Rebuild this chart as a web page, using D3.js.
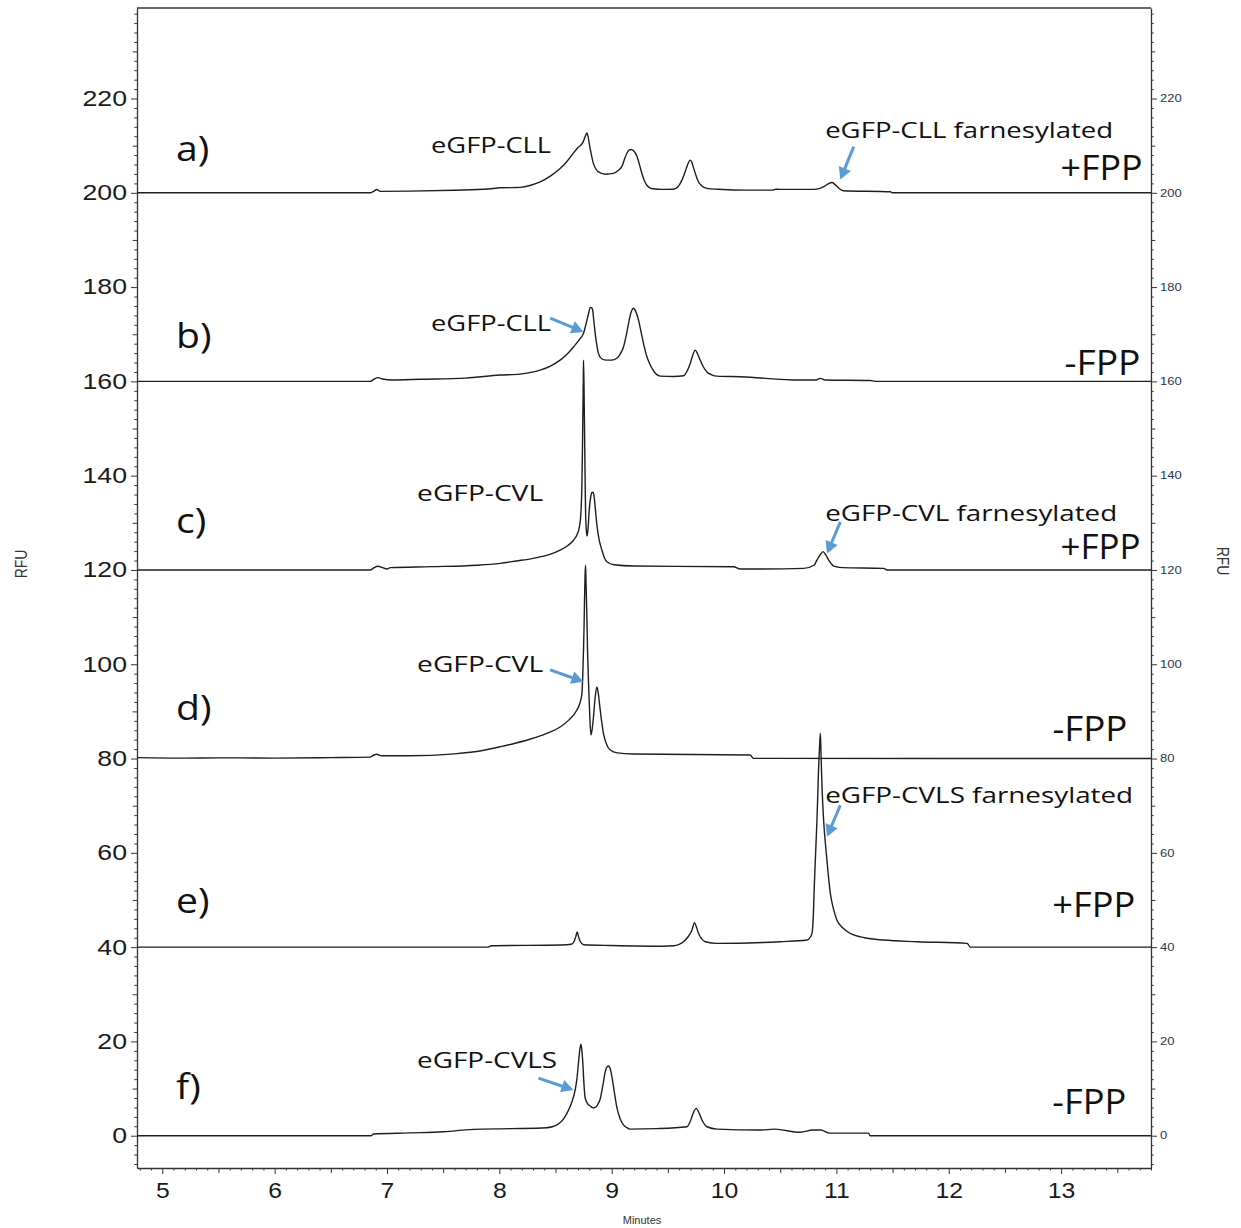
<!DOCTYPE html>
<html>
<head>
<meta charset="utf-8">
<script src="https://cdn.jsdelivr.net/npm/d3@7"></script>
<style>
  body { margin: 0; background: #fff; }
  svg { display: block; }
</style>
</head>
<body>
<svg id="chart" width="1241" height="1228"></svg>
<script>
// Stacked capillary electrophoresis traces (fluorescence, RFU vs. migration time in minutes).
// Each trace is stored as [minutes, RFU above its own baseline]; the baseline offset is added when drawn.
const traceNames   = ["a)", "b)", "c)", "d)", "e)", "f)"];
const traceOffsets = [200, 160, 120, 80, 40, 0];
const conditions   = ["+FPP", "-FPP", "+FPP", "-FPP", "+FPP", "-FPP"];

const traceA = [
  [4.775,0],[6.85,0],[6.88,0.3],[6.91,0.7],[6.94,0.3],[7.2,0.35],[7.6,0.55],[7.9,0.8],[8.007,1.06],
  [8.185,1.15],[8.28,1.6],[8.363,2.33],[8.45,3.5],[8.541,5.17],[8.60,6.6],[8.657,8.36],[8.70,9.6],
  [8.746,10.8],[8.765,12.0],[8.779,12.7],[8.79,11.9],[8.80,10.5],[8.818,8.2],[8.836,6.3],[8.86,5.0],
  [8.898,4.24],[8.95,3.95],[9.014,4.11],[9.06,4.8],[9.091,5.6],[9.115,7.2],[9.135,8.4],[9.155,9.05],
  [9.174,9.2],[9.195,8.9],[9.224,7.8],[9.248,5.9],[9.269,4.1],[9.29,2.6],[9.313,1.6],[9.34,1.05],
  [9.369,0.85],[9.46,0.72],[9.548,0.75],[9.59,1.3],[9.625,2.69],[9.650,4.2],[9.670,5.6],[9.699,6.94],
  [9.715,6.4],[9.726,5.51],[9.75,3.7],[9.771,2.4],[9.80,1.5],[9.848,0.95],[9.95,0.75],[10.204,0.57],
  [10.438,0.57],[10.46,0.75],[10.55,0.72],[10.794,0.72],[10.86,1.0],[10.901,1.5],[10.935,2.0],
  [10.961,2.2],[10.985,1.8],[11.005,1.4],[11.03,0.8],[11.061,0.45],[11.48,0.21],[11.5,0],[13.8,0]
];
const traceB = [
  [4.775,0],[6.85,0],[6.88,0.4],[6.92,0.8],[6.96,0.5],[7.05,0.3],[7.3,0.45],[7.7,0.7],[8.007,1.34],
  [8.185,1.55],[8.28,1.9],[8.363,2.4],[8.45,3.2],[8.541,4.5],[8.60,5.7],[8.66,7.3],[8.71,8.8],
  [8.749,10.2],[8.775,12.5],[8.794,14.4],[8.81,15.7],[8.822,15.6],[8.83,15.2],[8.842,12.6],
  [8.853,10.2],[8.867,7.8],[8.882,5.9],[8.91,4.8],[8.957,4.5],[9.00,4.5],[9.046,4.9],[9.08,6.0],
  [9.105,7.3],[9.13,9.8],[9.15,12.3],[9.172,14.6],[9.194,15.5],[9.215,14.8],[9.239,13.0],
  [9.262,10.4],[9.283,8.06],[9.31,5.5],[9.343,3.46],[9.38,2.0],[9.432,1.12],[9.55,1.05],[9.64,1.2],
  [9.675,2.4],[9.699,3.8],[9.722,5.6],[9.743,6.64],[9.765,5.8],[9.788,4.5],[9.815,3.1],[9.848,2.0],
  [9.89,1.4],[9.937,1.12],[10.144,0.98],[10.678,0.28],[10.82,0.3],[10.856,0.64],[10.90,0.3],
  [11.3,0.2],[11.35,0],[13.8,0]
];
const traceC = [
  [4.775,0],[6.85,0],[6.88,0.4],[6.92,0.8],[6.96,0.5],[7.0,0.2],[7.03,0.5],[7.4,0.7],[7.8,1.0],
  [8.007,1.4],[8.15,1.9],[8.3,2.46],[8.45,3.3],[8.541,4.2],[8.61,5.2],[8.66,6.3],[8.695,7.7],
  [8.713,9.2],[8.727,12.5],[8.735,18.4],[8.740,26],[8.744,34],[8.747,40],[8.749,44.5],[8.753,40],
  [8.757,32],[8.762,22],[8.767,13],[8.774,8.5],[8.781,7.2],[8.79,9.0],[8.80,12.7],[8.812,15.3],
  [8.824,16.4],[8.836,16.5],[8.848,14.6],[8.858,12.0],[8.868,9.6],[8.89,6.2],[8.913,4.2],
  [8.935,2.6],[8.957,1.74],[9.02,1.1],[9.194,0.83],[10.085,0.68],[10.144,0.19],[10.71,0.34],
  [10.80,1.0],[10.827,2.1],[10.855,3.2],[10.881,3.9],[10.905,3.2],[10.931,2.1],[10.955,1.3],
  [10.976,0.83],[11.05,0.5],[11.42,0.34],[11.45,0],[13.8,0]
];
const traceD = [
  [4.775,0.2],[5.2,0.1],[5.5,0.15],[6.0,0.1],[6.5,0.2],[6.85,0.3],[6.88,0.7],[6.91,0.9],[6.95,0.6],
  [7.2,0.6],[7.6,1.0],[7.85,1.7],[8.007,2.5],[8.15,3.3],[8.3,4.3],[8.45,5.6],[8.541,6.7],[8.62,8.2],
  [8.69,10.3],[8.72,12.0],[8.735,13.8],[8.743,18],[8.749,23.0],[8.754,28],[8.758,33.6],[8.763,39],
  [8.767,41.0],[8.771,38],[8.775,34],[8.779,30.1],[8.786,22],[8.794,15.9],[8.804,9.5],[8.815,5.0],
  [8.826,6.2],[8.838,8.9],[8.853,13.0],[8.868,15.2],[8.88,14.0],[8.891,11.7],[8.91,8.0],[8.927,5.3],
  [8.955,3.0],[8.987,1.8],[9.05,1.2],[9.194,0.95],[10.233,0.74],[10.26,0.04],[13.8,0]
];
const traceE = [
  [4.775,0],[7.9,0],[7.93,0.3],[8.55,0.45],[8.64,0.6],[8.665,1.2],[8.68,2.2],[8.693,3.2],[8.705,2.2],
  [8.72,1.2],[8.75,0.5],[9.0,0.35],[9.45,0.2],[9.55,0.3],[9.60,0.6],[9.639,1.15],[9.68,2.2],
  [9.714,3.6],[9.737,5.2],[9.755,4.2],[9.773,2.9],[9.80,1.8],[9.833,1.15],[9.937,0.8],[10.5,1.15],
  [10.738,1.5],[10.77,2.2],[10.783,2.9],[10.795,7],[10.803,12.8],[10.815,20],[10.827,27],[10.835,33],
  [10.841,37.6],[10.849,42],[10.857,45.4],[10.863,41],[10.868,37],[10.872,34.1],[10.886,27],
  [10.91,19.9],[10.93,14.8],[10.946,11.4],[10.975,8.0],[11.005,5.7],[11.06,4.0],[11.124,2.9],
  [11.25,2.0],[11.42,1.5],[11.718,1.15],[12.163,0.8],[12.193,0],[13.8,0]
];
const traceF = [
  [4.775,0],[6.86,0],[6.879,0.36],[7.2,0.6],[7.502,0.85],[7.769,1.35],[8.1,1.5],[8.423,1.7],
  [8.47,1.9],[8.512,2.3],[8.56,3.2],[8.601,4.75],[8.64,6.8],[8.675,9.7],[8.69,12],[8.704,15.4],
  [8.716,18.2],[8.726,19.4],[8.735,18],[8.743,15.4],[8.753,11],[8.764,8.0],[8.785,6.8],[8.809,6.3],
  [8.835,5.9],[8.853,6.0],[8.875,6.6],[8.898,7.8],[8.92,10.5],[8.942,13.5],[8.958,14.6],[8.972,14.8],
  [8.987,14.2],[9.002,12.5],[9.025,9.0],[9.046,6.0],[9.075,3.6],[9.105,2.3],[9.135,1.7],[9.165,1.4],
  [9.4,1.5],[9.67,1.9],[9.695,2.8],[9.714,4.0],[9.735,5.3],[9.752,5.8],[9.77,5.2],[9.788,4.2],
  [9.815,2.8],[9.848,1.9],[9.937,1.4],[10.322,1.2],[10.45,1.4],[10.678,0.72],[10.79,1.2],
  [10.86,1.2],[10.94,0.55],[11.287,0.55],[11.30,0],[13.8,0]
];
const traces = [traceA, traceB, traceC, traceD, traceE, traceF];

// Axis ranges and tick values
const xDomain = [4.775, 13.80];
const yDomain = [-6.85, 239.2];
const xTickLabels = [5, 6, 7, 8, 9, 10, 11, 12, 13];
const yTickLabels = [0, 20, 40, 60, 80, 100, 120, 140, 160, 180, 200, 220];

// Peak annotations: label text, anchor (minutes, RFU)
const peakLabels = [
  { text: "eGFP-CLL",               t: 7.392,  v: 208.4, w: 120 },
  { text: "eGFP-CLL farnesylated",  t: 10.90,  v: 211.6, w: 288 },
  { text: "eGFP-CLL",               t: 7.392,  v: 170.6, w: 120 },
  { text: "eGFP-CVL",               t: 7.268,  v: 134.6, w: 126 },
  { text: "eGFP-CVL farnesylated",  t: 10.90,  v: 130.4, w: 292 },
  { text: "eGFP-CVL",               t: 7.268,  v: 98.3,  w: 126 },
  { text: "eGFP-CVLS farnesylated", t: 10.90,  v: 70.6,  w: 308 },
  { text: "eGFP-CVLS",              t: 7.268,  v: 14.4,  w: 140 }
];
// Arrows from labels to peaks: start and tip (minutes, RFU)
const arrows = [
  { from: [11.154, 209.8], to: [11.035, 202.8] },
  { from: [8.452, 173.4],  to: [8.749, 170.5] },
  { from: [11.035, 130.2], to: [10.916, 123.5] },
  { from: [8.452, 98.8],   to: [8.749, 96.3] },
  { from: [11.035, 70.1],  to: [10.916, 63.4] },
  { from: [8.348, 12.2],   to: [8.66, 9.7] }
];
// Panel letter (left) and condition tag (right end) positions, minutes / RFU
const panelLabelAt = [[5.123,206.7],[5.123,167.1],[5.123,127.8],[5.123,88.2],[5.123,47.2],[5.123,7.8]];
const conditionAt  = [[13.724,202.7],[13.706,161.4],[13.706,122.3],[13.59,83.7],[13.66,46.4],[13.58,4.6]];
const conditionW   = [82, 76, 80, 75, 83, 74];

const svg = d3.select("#chart");
const plot = { left: 137, right: 1151, top: 8, bottom: 1168 };

const x = d3.scaleLinear().domain(xDomain).range([plot.left, plot.right]);
const y = d3.scaleLinear().domain(yDomain).range([plot.bottom, plot.top]);

const axisColor = "#333";
const uiFont = "'Liberation Sans', Arial, sans-serif";
const annFont = "'Open Sans', 'Noto Sans', sans-serif";

// Stretch text horizontally by factor k (the figure's type is set wide)
function stretch(sel, k) {
  sel.each(function () {
    const n = this.getComputedTextLength();
    if (n > 0) {
      d3.select(this).attr("textLength", n * k).attr("lengthAdjust", "spacingAndGlyphs");
    }
  });
}

// ---- Y axes (left and right) with minor/medium/major ticks ----
const yMinor = d3.range(-6, 239, 2).filter(v => v % 10 !== 0);
const yMid = d3.range(10, 239, 20);

function styleAxis(g) {
  g.selectAll("path.domain").attr("stroke", axisColor).attr("stroke-width", 1.3);
  g.selectAll(".tick line").attr("stroke", axisColor).attr("stroke-width", 1);
}

function addYAxis(side, xpos) {
  const mk = side === "left" ? d3.axisLeft : d3.axisRight;
  const gMinor = svg.append("g").attr("transform", `translate(${xpos},0)`)
    .call(mk(y).tickValues(yMinor).tickSize(2.7).tickSizeOuter(0).tickFormat(""));
  gMinor.select("path.domain").remove();
  styleAxis(gMinor);
  const gMid = svg.append("g").attr("transform", `translate(${xpos},0)`)
    .call(mk(y).tickValues(yMid).tickSize(4.3).tickSizeOuter(0).tickFormat(""));
  gMid.select("path.domain").remove();
  styleAxis(gMid);
  const gMaj = svg.append("g").attr("transform", `translate(${xpos},0)`)
    .call(mk(y).tickValues(yTickLabels).tickSize(6).tickSizeOuter(0).tickPadding(side === "left" ? 4 : 3));
  styleAxis(gMaj);
  return gMaj;
}

const leftAxis = addYAxis("left", plot.left);
leftAxis.selectAll("text")
  .attr("font-family", uiFont).attr("font-size", 21.5).attr("fill", "#1a1a1a");
stretch(leftAxis.selectAll("text"), 1.24);

const rightAxis = addYAxis("right", plot.right);
rightAxis.selectAll("text")
  .attr("font-family", uiFont).attr("font-size", 10).attr("fill", "#2b3550");
stretch(rightAxis.selectAll("text"), 1.3);

// ---- X axis ----
const xAll = d3.range(48, 139).map(i => i / 10);
const xMinor = xAll.filter(v => Math.abs(v * 2 - Math.round(v * 2)) > 1e-6);
const xMid = xAll.filter(v => Math.abs(v * 2 - Math.round(v * 2)) < 1e-6 && Math.abs(v - Math.round(v)) > 1e-6);

const gxMinor = svg.append("g").attr("transform", `translate(0,${plot.bottom})`)
  .call(d3.axisBottom(x).tickValues(xMinor).tickSize(2.5).tickSizeOuter(0).tickFormat(""));
gxMinor.select("path.domain").remove();
styleAxis(gxMinor);
const gxMid = svg.append("g").attr("transform", `translate(0,${plot.bottom})`)
  .call(d3.axisBottom(x).tickValues(xMid).tickSize(5).tickSizeOuter(0).tickFormat(""));
gxMid.select("path.domain").remove();
styleAxis(gxMid);
const gx = svg.append("g").attr("transform", `translate(0,${plot.bottom})`)
  .call(d3.axisBottom(x).tickValues(xTickLabels).tickSize(6).tickSizeOuter(0).tickPadding(9).tickFormat(d3.format("d")));
styleAxis(gx);
gx.selectAll("text").attr("font-family", uiFont).attr("font-size", 21.5).attr("fill", "#1a1a1a");
stretch(gx.selectAll("text"), 1.15);

// Top frame line
svg.append("line")
  .attr("x1", plot.left).attr("x2", plot.right)
  .attr("y1", plot.top).attr("y2", plot.top)
  .attr("stroke", axisColor).attr("stroke-width", 1.3);

// Axis titles
svg.append("text")
  .attr("transform", `translate(27,564) scale(1.24,1) rotate(-90)`)
  .attr("text-anchor", "middle")
  .attr("font-family", uiFont).attr("font-size", 14).attr("fill", "#333")
  .text("RFU");
svg.append("text")
  .attr("transform", `translate(1217,561) scale(1.24,1) rotate(90)`)
  .attr("text-anchor", "middle")
  .attr("font-family", uiFont).attr("font-size", 14).attr("fill", "#333")
  .text("RFU");
svg.append("text")
  .attr("x", 642).attr("y", 1224)
  .attr("text-anchor", "middle")
  .attr("font-family", uiFont).attr("font-size", 11).attr("fill", "#333")
  .text("Minutes");

// ---- Traces ----
const line = d3.line().x(d => x(d[0])).y(d => y(d[1])).curve(d3.curveMonotoneX);
traces.forEach((tr, i) => {
  const off = traceOffsets[i];
  svg.append("path")
    .datum(tr.map(p => [p[0], p[1] + off]))
    .attr("fill", "none")
    .attr("stroke", "#1e1e1e")
    .attr("stroke-width", 1.4)
    .attr("stroke-linejoin", "round")
    .attr("d", line);
});

// ---- Labels ----
function fitText(sel, w) {
  sel.attr("textLength", w).attr("lengthAdjust", "spacingAndGlyphs");
}

traceNames.forEach((name, i) => {
  const t = svg.append("text")
    .attr("x", x(panelLabelAt[i][0])).attr("y", y(panelLabelAt[i][1]))
    .attr("font-family", annFont).attr("font-size", 34).attr("fill", "#111")
    .text(name);
  stretch(t, 1.15);
});

conditions.forEach((c, i) => {
  const w = conditionW[i];
  const t = svg.append("text")
    .attr("x", x(conditionAt[i][0]) - w).attr("y", y(conditionAt[i][1]))
    .attr("font-family", annFont).attr("font-size", 34).attr("fill", "#111")
    .text(c);
  fitText(t, w);
});

peakLabels.forEach(p => {
  const t = svg.append("text")
    .attr("x", x(p.t)).attr("y", y(p.v))
    .attr("font-family", annFont).attr("font-size", 22.5).attr("fill", "#111")
    .text(p.text);
  fitText(t, p.w);
});

// ---- Arrows ----
const arrowColor = "#5b9bd5";
arrows.forEach(a => {
  const x0 = x(a.from[0]), y0 = y(a.from[1]);
  const x1 = x(a.to[0]),   y1 = y(a.to[1]);
  const dx = x1 - x0, dy = y1 - y0, len = Math.hypot(dx, dy);
  const ux = dx / len, uy = dy / len;
  const head = 12, half = 6.5;
  const bx = x1 - ux * head, by = y1 - uy * head;
  svg.append("line")
    .attr("x1", x0).attr("y1", y0).attr("x2", bx + ux * 1).attr("y2", by + uy * 1)
    .attr("stroke", arrowColor).attr("stroke-width", 3);
  svg.append("path")
    .attr("d", `M${x1},${y1}L${bx - uy * half},${by + ux * half}L${bx + uy * half},${by - ux * half}Z`)
    .attr("fill", arrowColor);
});
</script>
</body>
</html>
